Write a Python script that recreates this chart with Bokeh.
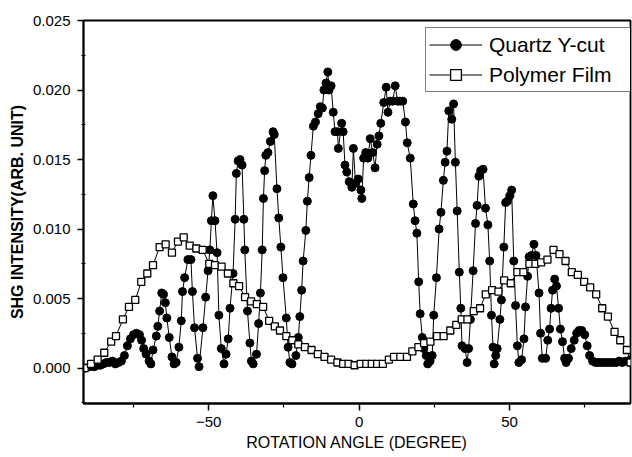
from bokeh.plotting import figure
from bokeh.models import FixedTicker, PrintfTickFormatter, Range1d, Legend, LegendItem
from bokeh.embed import file_html
from bokeh.resources import INLINE

# ---- data ----
quartz_angle = [
    -91.0, -89.5, -88.0, -87.0, -86.0, -85.0, -84.0, -83.0, -82.0, -81.0,
    -80.0, -79.0, -78.0, -77.0, -76.0, -75.0, -74.0, -73.0, -72.3, -71.6,
    -70.8, -69.8, -69.2, -68.5, -67.4, -66.9, -66.3, -65.6, -65.0, -64.4,
    -63.9, -63.1, -62.2, -61.5, -60.8, -59.9, -59.1, -58.7, -58.0, -56.9,
    -55.9, -55.4, -54.7, -53.7, -53.2, -51.9, -51.0, -50.2, -49.6, -49.1,
    -48.6, -47.9, -47.2, -46.6, -45.8, -44.9, -44.2, -43.5, -42.9, -41.9,
    -41.2, -40.8, -40.2, -39.6, -38.9, -38.3, -38.0, -37.1, -36.3, -35.8,
    -35.2, -34.1, -33.4, -32.8, -32.2, -31.8, -31.4, -31.0, -30.3, -29.5,
    -28.6, -28.2, -27.3, -26.7, -26.0, -25.3, -24.2, -23.6, -23.0, -22.3,
    -21.0, -20.2, -19.7, -19.1, -18.6, -17.7, -17.2, -16.6, -16.0, -15.2,
    -14.5, -13.6, -12.9, -12.2, -11.7, -11.0, -10.4, -10.0, -9.3, -8.6,
    -8.0, -7.2, -6.9, -5.8, -5.3, -4.7, -4.1, -3.3, -2.4, -1.9,
    -1.2, -0.3, 0.6, 0.9, 1.5, 2.2, 2.9, 3.7, 4.5, 5.3,
    6.0, 6.6, 7.2, 8.2, 9.0, 9.6, 10.3, 11.2, 12.0, 12.8,
    13.6, 14.5, 15.4, 16.0, 17.0, 18.0, 18.6, 19.2, 19.8, 20.3,
    21.0, 21.5, 22.3, 22.8, 23.6, 24.3, 24.8, 25.7, 26.6, 27.2,
    28.0, 28.6, 29.2, 29.8, 30.8, 31.4, 32.0, 32.6, 33.3, 33.8,
    34.2, 35.2, 35.9, 36.4, 37.0, 37.9, 38.7, 39.2, 39.8, 40.4,
    41.2, 42.0, 42.8, 43.4, 44.0, 44.5, 44.9, 45.4, 45.9, 46.8,
    47.3, 48.1, 48.7, 49.3, 50.1, 50.7, 51.4, 52.0, 52.6, 53.1,
    54.0, 54.8, 55.3, 56.0, 56.5, 57.3, 58.1, 58.8, 59.8, 60.3,
    60.9, 62.0, 62.7, 63.3, 63.8, 64.3, 65.0, 65.6, 66.3, 66.9,
    67.6, 68.3, 68.8, 69.6, 70.5, 71.5, 72.3, 73.1, 74.0, 75.0,
    75.8, 76.6, 77.6, 78.6, 79.5, 80.5, 81.5, 82.5, 83.5, 84.5,
    85.5, 86.5, 87.5, 88.5, 89.5, 90.3,
]
quartz_shg = [
    0.0000, 0.0001, 0.0001, 0.0002, 0.0002, 0.0003, 0.0004, 0.0004, 0.0005, 0.0003,
    0.0004, 0.0005, 0.0009, 0.0016, 0.0021, 0.0024, 0.0025, 0.0024, 0.0020, 0.0014,
    0.0010, 0.0005, 0.0003, 0.0013, 0.0023, 0.0030, 0.0041, 0.0054, 0.0053, 0.0047,
    0.0036, 0.0022, 0.0008, 0.0003, 0.0004, 0.0015, 0.0034, 0.0055, 0.0065, 0.0078,
    0.0078, 0.0055, 0.0029, 0.0007, 0.0001, 0.0029, 0.0051, 0.0070, 0.0085, 0.0106,
    0.0124, 0.0106, 0.0083, 0.0038, 0.0014, 0.0003, 0.0010, 0.0021, 0.0043, 0.0068,
    0.0107, 0.0140, 0.0149, 0.0150, 0.0146, 0.0107, 0.0085, 0.0041, 0.0018, 0.0005,
    0.0003, 0.0010, 0.0032, 0.0054, 0.0085, 0.0122, 0.0142, 0.0153, 0.0155, 0.0163,
    0.0170, 0.0168, 0.0129, 0.0108, 0.0087, 0.0065, 0.0036, 0.0015, 0.0004, 0.0003,
    0.0009, 0.0022, 0.0037, 0.0056, 0.0077, 0.0099, 0.0120, 0.0137, 0.0153, 0.0174,
    0.0177, 0.0183, 0.0188, 0.0187, 0.0200, 0.0205, 0.0213, 0.0200, 0.0203, 0.0184,
    0.0170, 0.0170, 0.0158, 0.0176, 0.0170, 0.0146, 0.0141, 0.0134, 0.0130, 0.0158,
    0.0133, 0.0136, 0.0128, 0.0122, 0.0151, 0.0155, 0.0151, 0.0165, 0.0155, 0.0144,
    0.0161, 0.0167, 0.0176, 0.0191, 0.0202, 0.0184, 0.0192, 0.0192, 0.0203, 0.0192,
    0.0192, 0.0192, 0.0177, 0.0162, 0.0151, 0.0118, 0.0106, 0.0097, 0.0062, 0.0039,
    0.0022, 0.0014, 0.0009, 0.0003, 0.0005, 0.0009, 0.0038, 0.0065, 0.0100, 0.0112,
    0.0135, 0.0148, 0.0156, 0.0185, 0.0179, 0.0190, 0.0148, 0.0113, 0.0069, 0.0043,
    0.0016, 0.0014, 0.0004, 0.0014, 0.0035, 0.0070, 0.0104, 0.0117, 0.0138, 0.0142,
    0.0143, 0.0115, 0.0103, 0.0077, 0.0038, 0.0015, 0.0003, 0.0009, 0.0014, 0.0035,
    0.0049, 0.0087, 0.0119, 0.0120, 0.0124, 0.0128, 0.0077, 0.0045, 0.0016, 0.0004,
    0.0006, 0.0021, 0.0044, 0.0066, 0.0080, 0.0081, 0.0089, 0.0081, 0.0054, 0.0025,
    0.0007, 0.0007, 0.0020, 0.0028, 0.0043, 0.0056, 0.0064, 0.0059, 0.0043, 0.0028,
    0.0019, 0.0007, 0.0004, 0.0007, 0.0014, 0.0020, 0.0025, 0.0027, 0.0027, 0.0024,
    0.0016, 0.0009, 0.0005, 0.0004, 0.0004, 0.0004, 0.0004, 0.0004, 0.0004, 0.0004,
    0.0004, 0.0005, 0.0004, 0.0005, 0.0005, 0.0006,
]

polymer_angle = [
    -91.2, -89.1, -86.9, -84.7, -82.4, -80.8, -78.5, -76.5, -74.4, -72.4,
    -70.4, -68.5, -66.3, -64.3, -62.2, -60.2, -58.3, -56.3, -54.1, -52.0,
    -49.8, -47.9, -45.7, -43.6, -41.8, -39.9, -37.9, -35.9, -34.0, -31.9,
    -29.9, -28.0, -26.3, -24.2, -22.2, -20.2, -18.0, -15.8, -13.7, -11.5,
    -9.3, -7.2, -5.3, -3.5, -1.5, 0.5, 2.4, 4.2, 6.0, 7.9,
    9.9, 11.6, 13.7, 15.9, 17.7, 19.7, 21.6, 23.7, 25.9, 28.1,
    30.3, 32.3, 34.1, 36.0, 38.1, 40.2, 42.1, 44.2, 46.3, 48.2,
    50.4, 52.6, 54.6, 56.6, 58.6, 60.5, 62.6, 64.6, 66.6, 68.6,
    70.7, 72.7, 74.8, 76.8, 78.8, 80.8, 82.7, 84.9, 86.8, 89.0,
    90.2,
]
polymer_shg = [
    0.0000, 0.0003, 0.0006, 0.0011, 0.0019, 0.0023, 0.0035, 0.0044, 0.0049, 0.0062,
    0.0068, 0.0074, 0.0087, 0.0089, 0.0083, 0.0091, 0.0094, 0.0088, 0.0086, 0.0085,
    0.0075, 0.0074, 0.0073, 0.0068, 0.0061, 0.0059, 0.0051, 0.0048, 0.0046, 0.0044,
    0.0034, 0.0030, 0.0027, 0.0023, 0.0020, 0.0017, 0.0015, 0.0013, 0.0010, 0.0008,
    0.0006, 0.0004, 0.0003, 0.0003, 0.0002, 0.0003, 0.0003, 0.0003, 0.0003, 0.0003,
    0.0006, 0.0008, 0.0008, 0.0008, 0.0012, 0.0015, 0.0018, 0.0019, 0.0023, 0.0023,
    0.0027, 0.0031, 0.0035, 0.0035, 0.0041, 0.0043, 0.0053, 0.0056, 0.0055, 0.0063,
    0.0061, 0.0069, 0.0069, 0.0075, 0.0075, 0.0076, 0.0078, 0.0085, 0.0082, 0.0077,
    0.0069, 0.0067, 0.0062, 0.0058, 0.0053, 0.0043, 0.0037, 0.0026, 0.0020, 0.0013,
    0.0004,
]

x_ticks = [-50, 0, 50]
x_minor_ticks = [-75, -25, 25, 75]
y_ticks = [0.000, 0.005, 0.010, 0.015, 0.020, 0.025]
y_minor_ticks = [-0.0025, 0.0025, 0.0075, 0.0125, 0.0175, 0.0225]

series_labels = ["Quartz Y-cut", "Polymer Film"]
x_title = "ROTATION ANGLE (DEGREE)"
y_title = "SHG INTENSITY(ARB. UNIT)"

FONT = "Liberation Sans"

p = figure(
    width=632, height=457,
    output_backend="svg", toolbar_location=None,
    x_range=Range1d(-91.6, 90.2), y_range=Range1d(-0.00255, 0.025),
    min_border_left=83, min_border_right=2, min_border_top=20, min_border_bottom=54,
    background_fill_color="white", border_fill_color="white",
)
p.xgrid.visible = False
p.ygrid.visible = False
p.outline_line_color = "black"
p.outline_line_width = 1.8
p.outline_line_alpha = 1.0

ql = p.line(quartz_angle, quartz_shg, line_color="black", line_width=1)
qs = p.scatter(quartz_angle, quartz_shg, marker="circle", size=8,
               fill_color="black", line_color="black", line_width=1)
pl = p.line(polymer_angle, polymer_shg, line_color="black", line_width=1)
ps = p.scatter(polymer_angle, polymer_shg, marker="square", size=7,
               fill_color="white", line_color="black", line_width=1.3)

# axes
for ax in (p.xaxis[0], p.yaxis[0]):
    ax.axis_line_width = 1.8
    ax.axis_line_color = "black"
    ax.major_tick_line_color = "black"
    ax.minor_tick_line_color = "black"
    ax.major_tick_line_width = 1.5
    ax.minor_tick_line_width = 1.2
    ax.major_label_text_font = FONT
    ax.major_label_text_font_size = "15px"
    ax.major_label_text_color = "black"
    ax.axis_label_text_font = FONT
    ax.axis_label_text_color = "black"
    ax.axis_label_text_font_style = "normal"

p.xaxis.ticker = FixedTicker(ticks=x_ticks, minor_ticks=x_minor_ticks)
p.xaxis.major_tick_out = 7
p.xaxis.major_tick_in = 0
p.xaxis.minor_tick_out = 4
p.xaxis.minor_tick_in = 0
p.xaxis.major_label_standoff = 6
p.xaxis.axis_label = x_title
p.xaxis.axis_label_text_font_size = "16px"
p.xaxis.axis_label_standoff = 4

p.yaxis.ticker = FixedTicker(ticks=y_ticks, minor_ticks=y_minor_ticks)
p.yaxis.formatter = PrintfTickFormatter(format="%.3f")
p.yaxis.major_tick_out = 6
p.yaxis.major_tick_in = 0
p.yaxis.minor_tick_out = 2
p.yaxis.minor_tick_in = 2
p.yaxis.major_label_standoff = 7
p.yaxis.axis_label = y_title
p.yaxis.axis_label_text_font_size = "16px"
p.yaxis.axis_label_text_font_style = "bold"
p.yaxis.axis_label_standoff = 4

legend = Legend(
    items=[
        LegendItem(label=series_labels[0], renderers=[ql, qs]),
        LegendItem(label=series_labels[1], renderers=[pl, ps]),
    ],
    location=(342, 311),
    glyph_width=53, glyph_height=27, label_height=27, label_width=139,
    label_standoff=7, spacing=3, padding=3, margin=0,
    label_text_font=FONT, label_text_font_size="21px", label_text_color="black",
    border_line_color="black", border_line_width=1.5,
    background_fill_color="white", background_fill_alpha=1.0,
)
p.add_layout(legend)

open("out.html", "w").write(file_html(p, INLINE))
